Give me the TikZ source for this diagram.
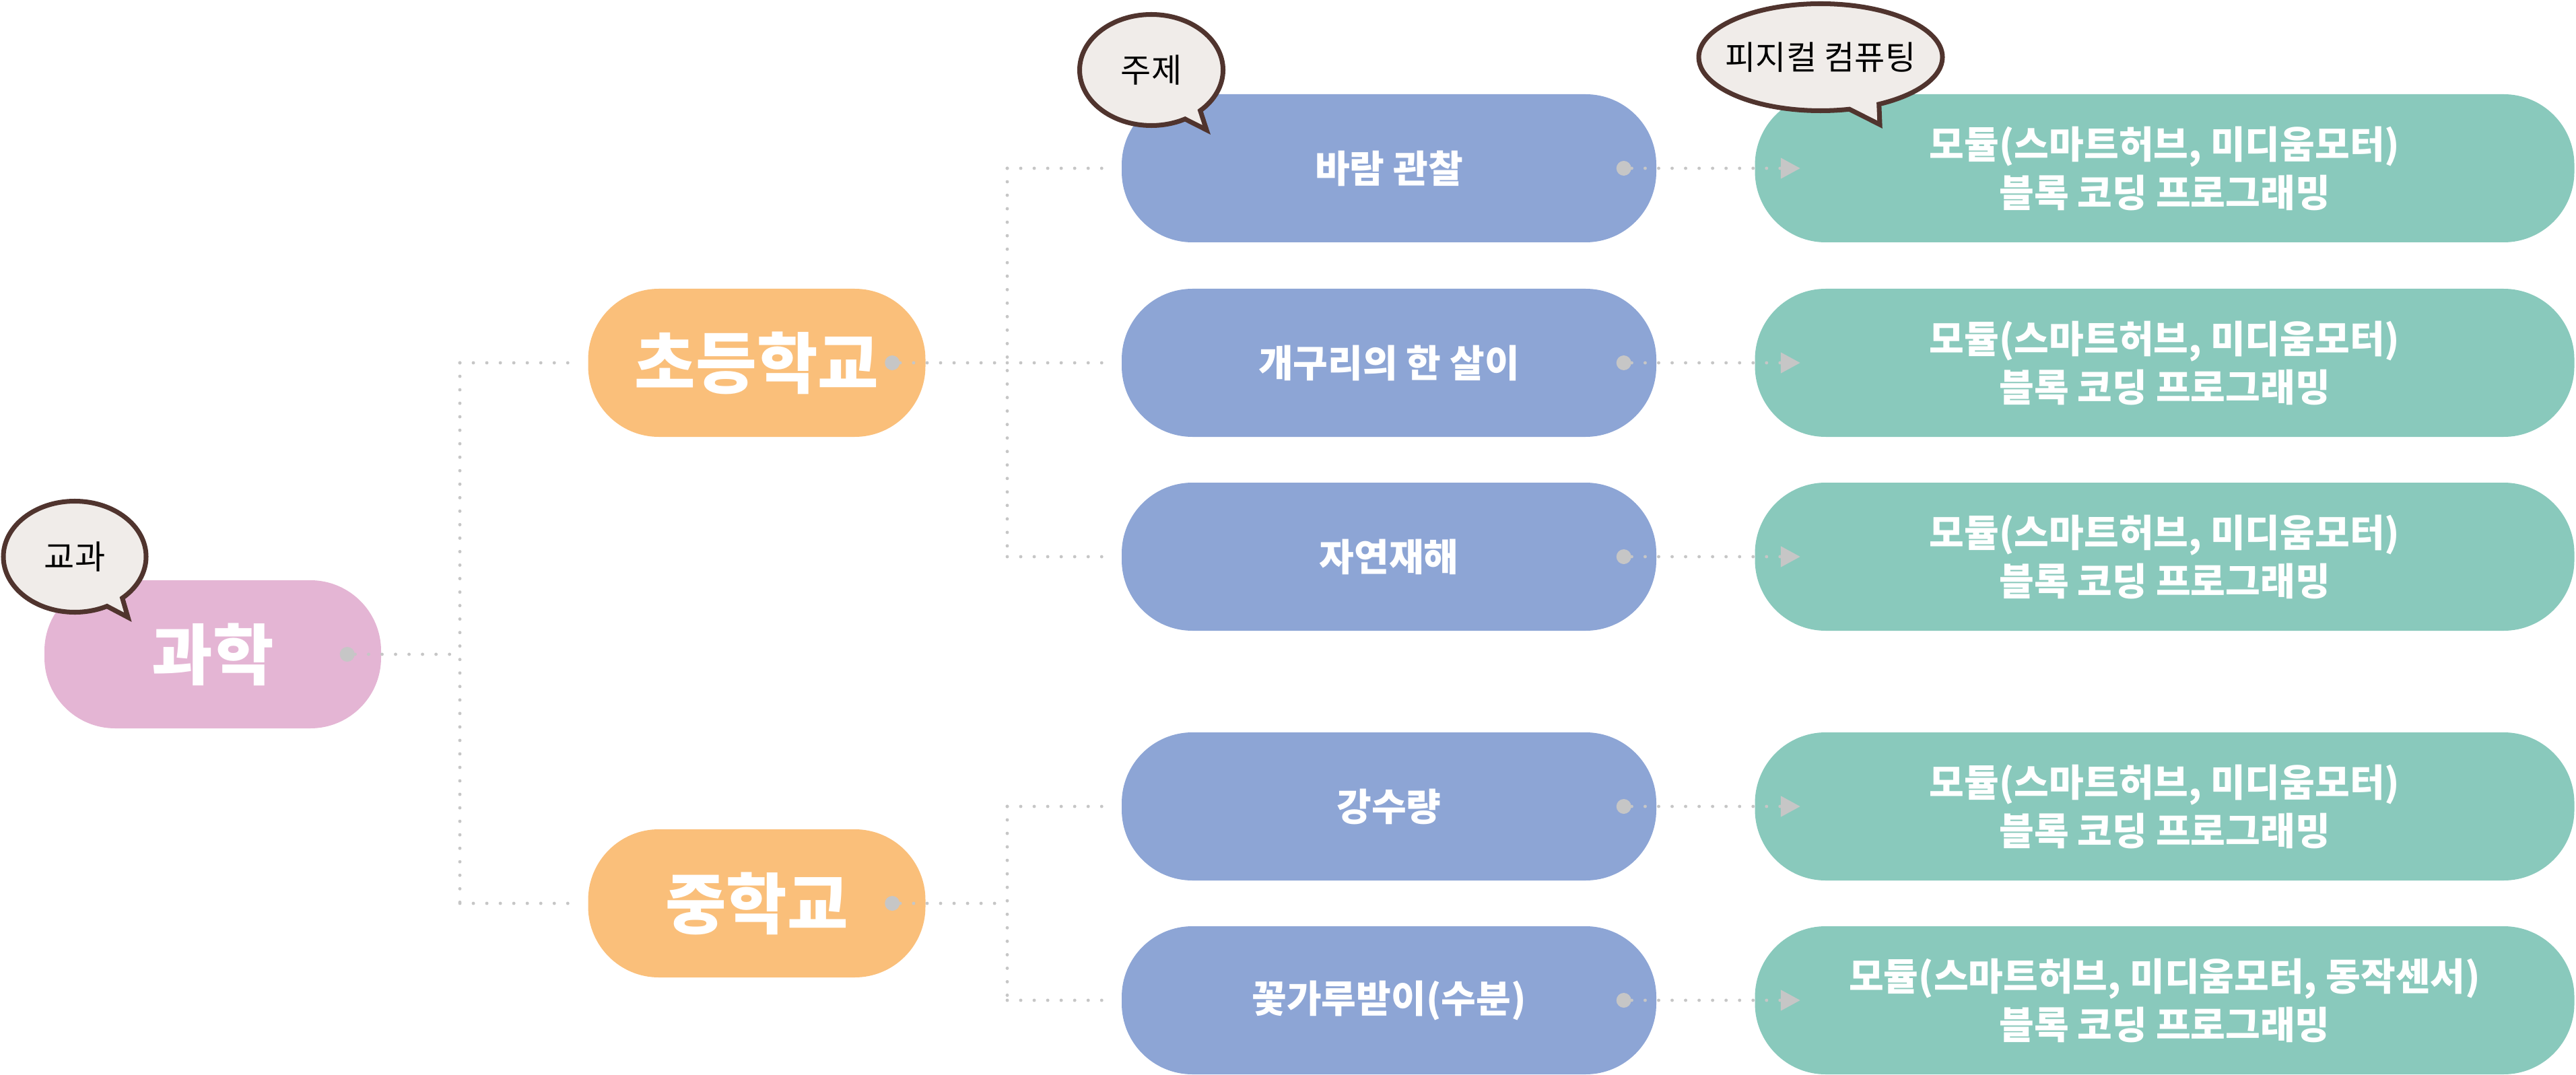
\documentclass[tikz,border=0pt]{standalone}
\usepackage{fontspec}
\usepackage{xcolor}
\usepackage{tikz}
\newfontfamily\kr{Noto Sans CJK KR}
\usetikzlibrary{arrows.meta,shapes.geometric,shapes.callouts,positioning}
\definecolor{pinkfill}{RGB}{228,181,212}
\definecolor{orangefill}{RGB}{250,191,122}
\definecolor{bluefill}{RGB}{141,165,213}
\definecolor{greenfill}{RGB}{137,201,188}
\definecolor{bubblefill}{RGB}{240,236,233}
\definecolor{bubbleline}{RGB}{80,52,46}
\definecolor{dotgray}{RGB}{198,198,198}
\tikzset{
  pill/.style={rectangle, rounded corners=1.05cm, minimum height=2.2cm, inner sep=0pt, text=white, align=center},
  bigtext/.style={font=\kr\bfseries\fontsize{28}{33}\selectfont},
  smalltext/.style={font=\kr\bfseries\fontsize{16}{20.5}\selectfont},
  bubble/.style={ellipse callout, draw=bubbleline, line width=2pt, fill=bubblefill, inner sep=0pt, font=\kr\fontsize{14}{16}\selectfont},
  gdot/.style={circle, fill=dotgray, minimum size=0.22cm, inner sep=0pt},
  link/.style={draw=dotgray, line width=1.4pt, line cap=round, dash pattern=on 0pt off 5.7pt}
}
\begin{document}
\begin{tikzpicture}[x=1cm,y=-1cm]
    \useasboundingbox (0,0) rectangle (38.26,15.97);
    \node[pill, bigtext, fill=pinkfill, minimum width=5cm] (sci) at (3.16,9.72) {과학};
    \node[pill, bigtext, fill=orangefill, minimum width=5.01cm] (elem) at (11.24,5.39) {초등학교};
    \node[pill, bigtext, fill=orangefill, minimum width=5.01cm] (mid) at (11.24,13.42) {중학교};
    \foreach \n/\y/\t/\g in {1/2.50/바람 관찰/{모듈(스마트허브, 미디움모터)},
        2/5.39/개구리의 한 살이/{모듈(스마트허브, 미디움모터)},
        3/8.27/자연재해/{모듈(스마트허브, 미디움모터)},
        4/11.98/강수량/{모듈(스마트허브, 미디움모터)},
        5/14.86/꽃가루받이(수분)/{모듈(스마트허브, 미디움모터, 동작센서)}} {
        \node[pill, smalltext, fill=bluefill, minimum width=7.94cm] (b\n) at (20.63,\y) {\t};
        \node[pill, smalltext, fill=greenfill, minimum width=12.17cm] (g\n) at (32.15,\y) {\g\\블록 코딩 프로그래밍};
        \node[gdot] (bd\n) at ([xshift=-0.49cm]b\n.east) {};
        \coordinate (gin\n) at ([xshift=0.68cm]g\n.west);
        \draw[link, -{Triangle[length=0.29cm,width=0.3cm]}] (bd\n) -- (gin\n);
    }
    \node[gdot] (sd) at ([xshift=-0.51cm]sci.east) {};
    \node[gdot] (ed) at ([xshift=-0.5cm]elem.east) {};
    \node[gdot] (md) at ([xshift=-0.5cm]mid.east) {};
    \coordinate (j0) at (6.83,9.72);
    \coordinate (j1) at (14.96,5.39);
    \coordinate (j2) at (14.96,13.42);
    \draw[link] (sd) -- (j0);
    \draw[link] (j0 |- elem) -- (j0 |- mid);
    \draw[link, shorten >=0.25cm] (j0 |- elem) -- (elem.west);
    \draw[link, shorten >=0.25cm] (j0 |- mid) -- (mid.west);
    \draw[link] (ed) -- (j1);
    \draw[link] (md) -- (j2);
    \draw[link] (j1 |- b1) -- (j1 |- b3);
    \draw[link] (j2 |- b4) -- (j2 |- b5);
    \foreach \n in {1,2,3} {
        \draw[link, shorten >=0.2cm] (j1 |- b\n) -- (b\n.west);
    }
    \foreach \n in {4,5} {
        \draw[link, shorten >=0.2cm] (j2 |- b\n) -- (b\n.west);
    }
    \node[bubble, minimum width=2.12cm, minimum height=1.65cm, callout absolute pointer={(1.90,9.17)}] (tagSubject) at (1.11,8.27) {교과};
    \node[bubble, minimum width=2.13cm, minimum height=1.65cm, callout absolute pointer={(17.92,1.93)}] (tagTheme) at (17.10,1.04) {주제};
    \node[bubble, minimum width=3.62cm, minimum height=1.59cm, inner xsep=-3mm, callout absolute pointer={(27.92,1.85)}] (tagPhys) at (27.04,0.85) {피지컬 컴퓨팅};
\end{tikzpicture}
\end{document}
